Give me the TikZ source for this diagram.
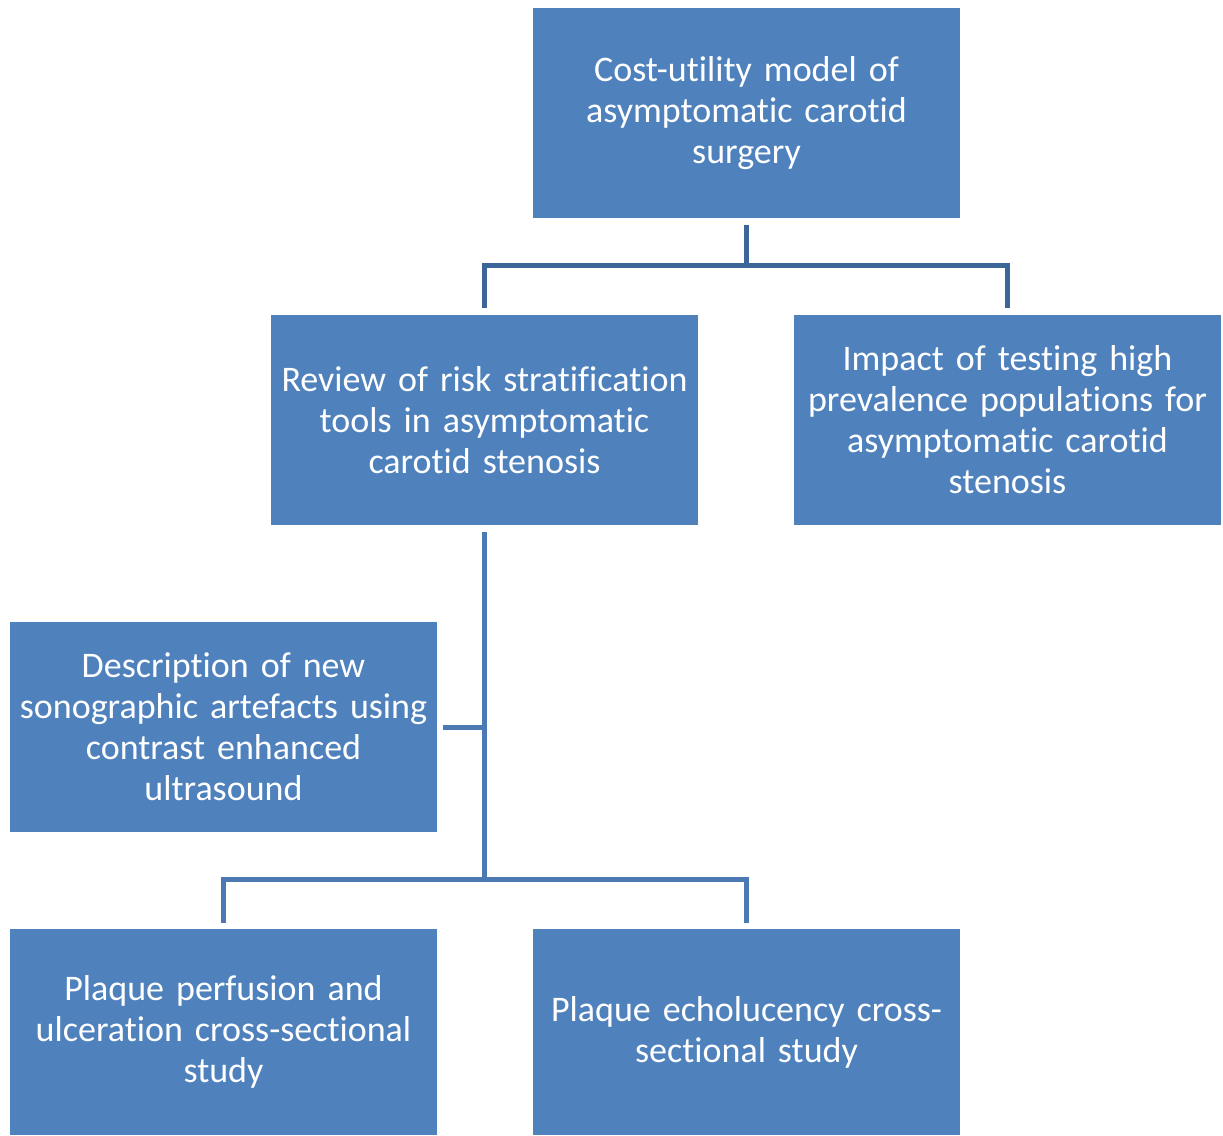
\documentclass[tikz,border=0pt]{standalone}
\usepackage{fontspec}
\setmainfont[Ligatures={NoCommon}]{Carlito}
\definecolor{boxblue}{RGB}{79,129,189}
\definecolor{linkdark}{RGB}{60,101,152}
\definecolor{linkblue}{RGB}{74,121,180}
\begin{document}
\begin{tikzpicture}[x=0.75pt,y=0.75pt,yscale=-1,xscale=1,
    stage/.style={rectangle, fill=boxblue, text=white, align=center, inner sep=0pt,
      minimum width=320.25pt, minimum height=157.5pt, text width=318pt,
      font=\fontsize{27}{30.75}\selectfont},
    link/.style={line width=3.75pt, draw=linkblue, line join=miter},
    toplink/.style={link, draw=linkdark}]
    \useasboundingbox (0,0) rectangle (1223,1135);

    % Boxes
    \node [stage] (model) at (746.5,113) {Cost-utility model of\\asymptomatic carotid\\surgery};
    \node [stage] (review) at (484.5,420) {Review of risk stratification\\tools in asymptomatic\\carotid stenosis};
    \node [stage] (impact) at (1007.5,420) {Impact of testing high\\prevalence populations for\\asymptomatic carotid\\stenosis};
    \node [stage] (artefacts) at (223.5,727) {Description of new\\sonographic artefacts using\\contrast enhanced\\ultrasound};
    \node [stage, minimum height=154.5pt] (perfusion) at (223.5,1032) {Plaque perfusion and\\ulceration cross-sectional\\study};
    \node [stage, minimum height=154.5pt] (echo) at (746.5,1032) {Plaque echolucency cross-\\sectional study};

    % Fork points
    \coordinate (topfork) at (746.5,265.5);
    \coordinate (lowfork) at (484.5,879.5);

    % Top level links
    \draw [toplink] ([yshift=5.25pt]model.south) -- (topfork);
    \draw [toplink] ([yshift=-5.25pt]review.north) -- (review.north |- topfork) -- (impact.north |- topfork) -- ([yshift=-5.25pt]impact.north);

    % Lower links
    \draw [link] ([yshift=5.25pt]review.south) -- (lowfork);
    \draw [link] ([xshift=4.5pt]artefacts.east) -- (review.south |- artefacts.east);
    \draw [link] ([yshift=-4.5pt]perfusion.north) -- (perfusion.north |- lowfork) -- (echo.north |- lowfork) -- ([yshift=-4.5pt]echo.north);
\end{tikzpicture}
\end{document}
